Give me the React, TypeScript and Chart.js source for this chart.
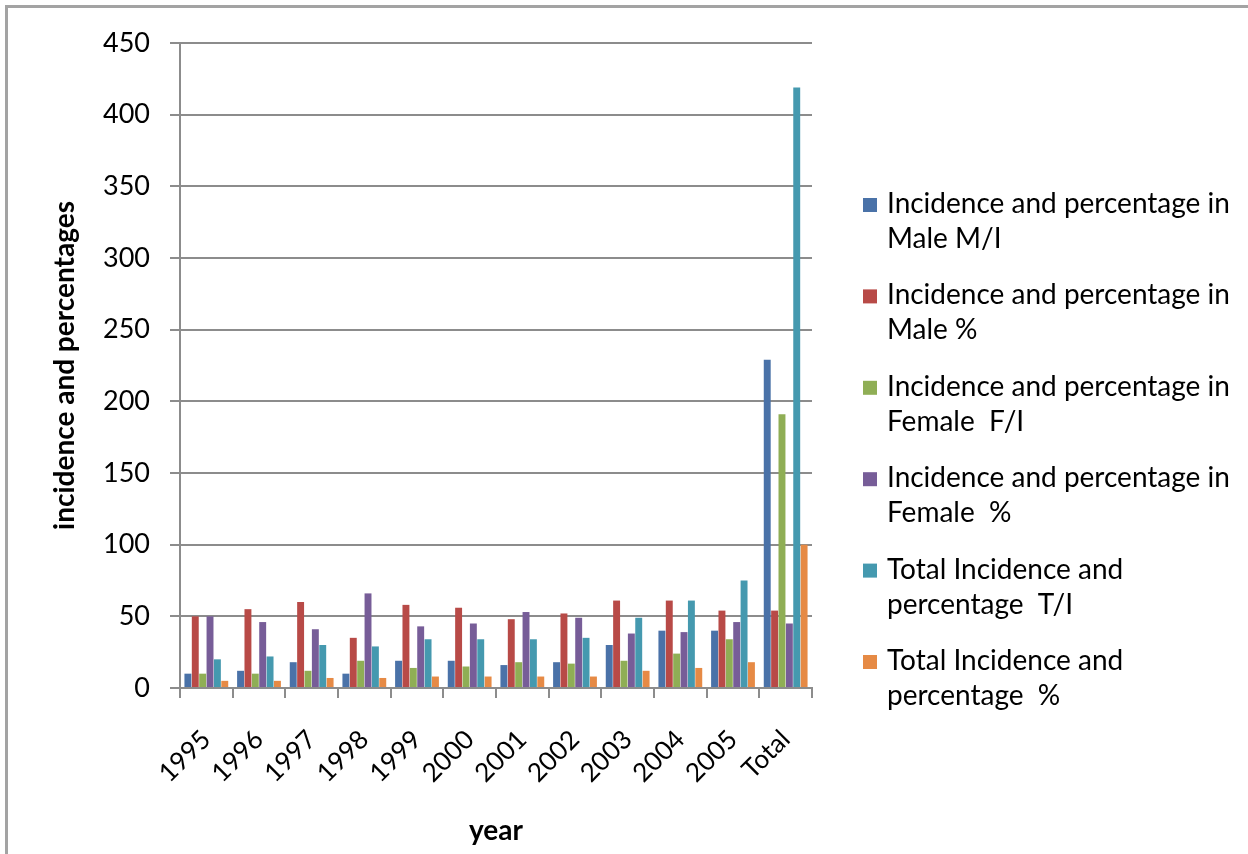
import React, { useEffect, useRef } from "react";
import { Chart, registerables } from "chart.js";

Chart.register(...registerables);

const categories = ["1995", "1996", "1997", "1998", "1999", "2000", "2001", "2002", "2003", "2004", "2005", "Total"];
const maleIncidence = [10, 12, 18, 10, 19, 19, 16, 18, 30, 40, 40, 229];
const malePercent = [50, 55, 60, 35, 58, 56, 48, 52, 61, 61, 54, 54];
const femaleIncidence = [10, 10, 12, 19, 14, 15, 18, 17, 19, 24, 34, 191];
const femalePercent = [50, 46, 41, 66, 43, 45, 53, 49, 38, 39, 46, 45];
const totalIncidence = [20, 22, 30, 29, 34, 34, 34, 35, 49, 61, 75, 419];
const totalPercent = [5, 5, 7, 7, 8, 8, 8, 8, 12, 14, 18, 100];

const seriesLabels = [
  ["Incidence and percentage in", "Male M/I"],
  ["Incidence and percentage in", "Male %"],
  ["Incidence and percentage in", "Female  F/I"],
  ["Incidence and percentage in", "Female  %"],
  ["Total Incidence and", "percentage  T/I"],
  ["Total Incidence and", "percentage  %"],
];
const seriesColors = ["#4a72a8", "#b84a47", "#8fae55", "#775d98", "#4599af", "#e68a45"];
const yTicks = [0, 50, 100, 150, 200, 250, 300, 350, 400, 450];

const FONT = "Lato, 'Liberation Sans', sans-serif";
const GRID = "#8c8c8c";

const legendPlugin = {
  id: "wrappedLegend",
  afterDraw(chart: any) {
    const ctx = chart.ctx;
    ctx.save();
    ctx.font = `28px ${FONT}`;
    ctx.textBaseline = "alphabetic";
    ctx.textAlign = "left";
    seriesLabels.forEach((lines, i) => {
      const base = 213 + i * 91.4;
      ctx.fillStyle = seriesColors[i];
      ctx.fillRect(863, base - 15, 14, 14);
      ctx.fillStyle = "#000";
      lines.forEach((t, j) => ctx.fillText(t, 887, base + j * 35));
    });
    ctx.restore();
  },
};

export default function App() {
  const ref = useRef<HTMLCanvasElement>(null);
  useEffect(() => {
    const data = [maleIncidence, malePercent, femaleIncidence, femalePercent, totalIncidence, totalPercent];
    const chart = new Chart(ref.current!, {
      type: "bar",
      data: {
        labels: categories,
        datasets: data.map((d, i) => ({
          label: seriesLabels[i].join(" "),
          data: d,
          backgroundColor: seriesColors[i],
          borderWidth: 0,
          barPercentage: 0.94,
          categoryPercentage: 0.84,
        })),
      },
      options: {
        responsive: false,
        animation: false,
        layout: { padding: { top: 43, right: 436, left: 0, bottom: 0 } },
        plugins: { legend: { display: false }, tooltip: { enabled: false } },
        scales: {
          x: {
            grid: { offset: true, drawOnChartArea: false, drawTicks: true, tickLength: 10, color: GRID, lineWidth: 2 },
            border: { display: true, color: GRID, width: 2 },
            ticks: { minRotation: 45, maxRotation: 45, padding: 26, color: "#000", font: { family: FONT, size: 26 } },
            title: { display: true, text: "year", color: "#000", font: { family: FONT, size: 28, weight: "bold" }, padding: { top: 0, bottom: 6 } },
            afterFit: (s: any) => { s.height = 166; },
          },
          y: {
            min: 0,
            max: 450,
            afterBuildTicks: (s: any) => { s.ticks = yTicks.map((v) => ({ value: v })); },
            grid: { color: GRID, lineWidth: 2, tickLength: 10 },
            border: { display: true, color: GRID, width: 2 },
            ticks: { padding: 20, color: "#000", font: { family: FONT, size: 27 } },
            title: { display: true, text: "incidence and percentages", color: "#000", font: { family: FONT, size: 28, weight: "bold" }, padding: { top: 48, bottom: 0 } },
            afterFit: (s: any) => { s.width = 180; },
          },
        },
      },
      plugins: [legendPlugin],
    });
    return () => chart.destroy();
  }, []);
  return (
    <div style={{ position: "fixed", left: 0, top: 0, width: 1248, height: 854, overflow: "hidden", background: "#fff" }}>
      <div style={{ position: "absolute", left: 5, top: 5, width: 1300, height: 900, border: "3px solid #a3a3a3" }} />
      <canvas ref={ref} width={1248} height={854} style={{ position: "absolute", left: 0, top: 0, width: 1248, height: 854 }} />
    </div>
  );
}
